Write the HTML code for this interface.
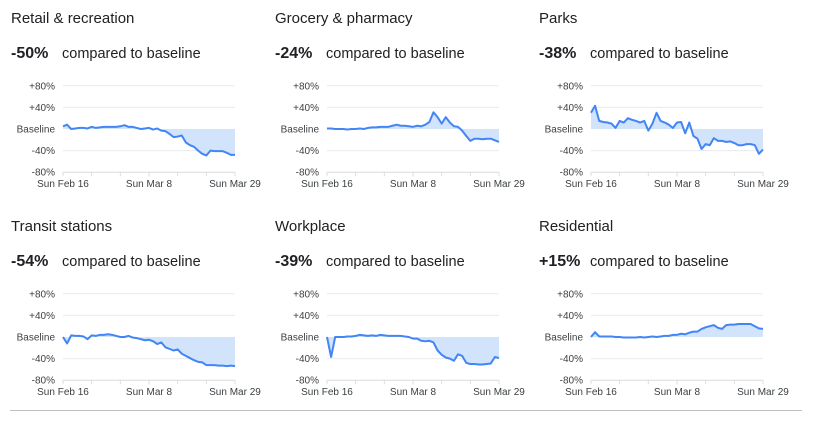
<!DOCTYPE html>
<html><head><meta charset="utf-8"><style>
body{margin:0;background:#fff;width:819px;height:431px;overflow:hidden;font-family:"Liberation Sans",Arial,sans-serif;color:#202124}
svg{position:absolute;left:0;top:0}
</style></head><body>
<svg id="c" width="819" height="431"></svg>
<script>
const titles=["Retail & recreation","Grocery & pharmacy","Parks","Transit stations","Workplace","Residential"];
const headlines=["-50%","-24%","-38%","-54%","-39%","+15%"];
const yTicks=[80,40,0,-40,-80];
const yTickLabels=["+80%","+40%","Baseline","-40%","-80%"];
const xTickLabels=["Sun Feb 16","Sun Mar 8","Sun Mar 29"];
const xTickLabelDays=[0,21,42];
const retail=[5,8,0,1,2,2,1,4,2,3,4,4,4,4,5,7,4,4,2,0,1,2,-1,1,-3,-4,-9,-15,-14,-12,-25,-30,-33,-40,-46,-49,-40,-41,-41,-41,-44,-48,-48];
const grocery=[1,1,0,0,0,-1,0,0,1,0,2,3,3,4,4,4,6,8,6,6,5,4,6,5,8,13,31,22,10,22,12,5,4,-3,-13,-22,-18,-18,-19,-18,-18,-21,-24];
const parks=[30,43,15,13,12,10,2,15,12,20,17,15,12,15,-3,10,30,15,12,8,2,12,13,-8,12,-13,-18,-37,-28,-30,-17,-22,-22,-24,-23,-26,-30,-30,-28,-28,-30,-46,-38];
const transit=[0,-12,3,2,2,1,-4,3,2,4,4,5,4,2,0,0,2,-1,-2,-4,-6,-5,-8,-13,-10,-19,-22,-25,-23,-31,-35,-39,-43,-46,-47,-52,-52,-52,-53,-53,-54,-53,-54];
const workplace=[0,-37,0,0,0,1,1,2,4,3,2,3,2,4,3,2,2,2,2,1,0,-3,-3,-7,-8,-7,-10,-25,-33,-38,-40,-44,-32,-35,-48,-50,-50,-51,-51,-50,-49,-37,-39];
const residential=[0,9,1,1,1,1,0,0,-1,-1,-1,-1,0,-1,0,1,0,1,2,2,4,4,6,5,8,10,10,15,18,20,22,17,15,22,23,23,24,24,24,24,20,16,15];
const seriesList=[retail,grocery,parks,transit,workplace,residential];
const ns="http://www.w3.org/2000/svg";
const svg=document.getElementById('c');
function mk(tag,attrs,parent){const e=document.createElementNS(ns,tag);for(const k in attrs)e.setAttribute(k,attrs[k]);(parent||svg).appendChild(e);return e;}
const colX=[10,274,538],rowY=[0,208];
const W=172,NDAYS=42;
seriesList.forEach((data,ci)=>{
  const ox=colX[ci%3],oy=rowY[Math.floor(ci/3)];
  const g=mk('g',{});
  
  
  const px=ox+53, base=oy+129;
  const xs=d=>px+d*W/NDAYS;
  const ys=v=>base-v*21.6/40;
  let t=mk('text',{x:ox+1,y:oy+23,'font-size':15,fill:'#202124'},g);t.textContent=titles[ci];
  
  t=mk('text',{x:ox+1,y:oy+58,'font-size':16,'font-weight':'bold',fill:'#202124'},g);t.textContent=headlines[ci];
  
  t=mk('text',{x:ox+52,y:oy+58,'font-size':14.5,fill:'#202124'},g);t.textContent='compared to baseline';
  
  yTicks.forEach((v,i)=>{
    if(v!==0&&v!==-80){const l=mk('line',{x1:px,x2:px+W,y1:ys(v),y2:ys(v),stroke:'#e8eaed','stroke-width':1},g);}
    const tl=mk('text',{x:px-8,y:ys(v)+3.5,'font-size':10,'text-anchor':'end',fill:'#3c4043'},g);tl.textContent=yTickLabels[i];
    
  });
  let pts=data.map((v,i)=>xs(i)+','+ys(v)).join(' ');
  const area=mk('polygon',{points:xs(0)+','+base+' '+pts+' '+xs(NDAYS)+','+base,fill:'#d2e3fc'},g);
  
  const ax=mk('line',{x1:px,x2:px+W,y1:ys(-80),y2:ys(-80),stroke:'#dadce0','stroke-width':1},g);
  
  for(let w=0;w<=6;w++){const tk=mk('line',{x1:xs(w*7),x2:xs(w*7),y1:ys(-80),y2:ys(-80)+4,stroke:'#dadce0'},g);}
  xTickLabels.forEach((s,i)=>{const tl=mk('text',{x:xs(xTickLabelDays[i]),y:oy+187,'font-size':10,'text-anchor':'middle',fill:'#3c4043'},g);tl.textContent=s;
    });
  const ln=mk('polyline',{points:pts,fill:'none',stroke:'#4285f4','stroke-width':2,'stroke-linejoin':'round'},g);
  
});
const d=mk('line',{x1:10,x2:802,y1:410.5,y2:410.5,stroke:'#bdc1c6','stroke-width':1});

</script>
</body></html>
